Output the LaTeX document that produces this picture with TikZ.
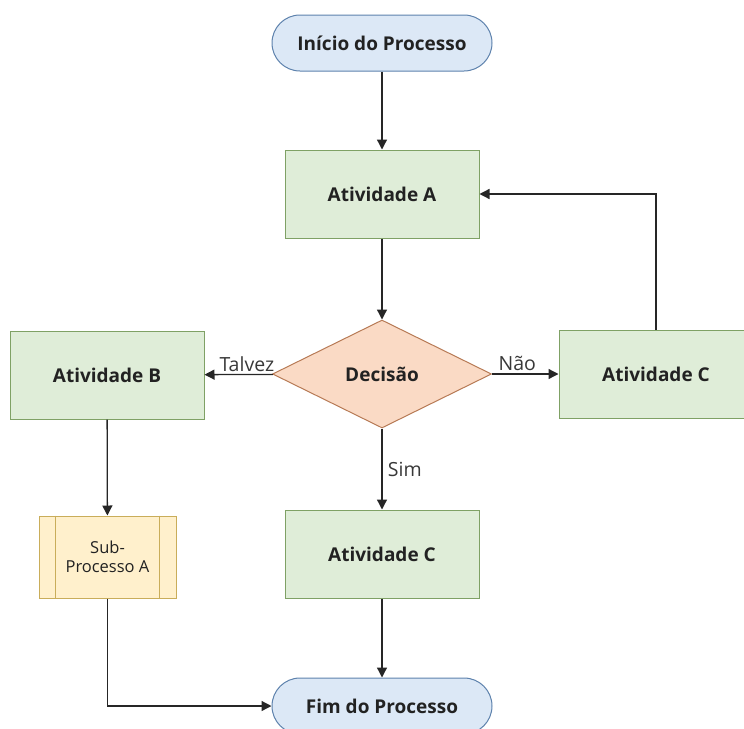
\documentclass[tikz,border=0pt]{standalone}
\usepackage{fontspec}
\setmainfont{Open Sans}
\usetikzlibrary{shapes.geometric,arrows.meta}
\definecolor{gfill}{HTML}{DFEDD8}
\definecolor{gline}{HTML}{7FA165}
\definecolor{bfill}{HTML}{DCE8F6}
\definecolor{bline}{HTML}{5E82AD}
\definecolor{ofill}{HTML}{FADAC5}
\definecolor{oline}{HTML}{B77A55}
\definecolor{yfill}{HTML}{FFF0CC}
\definecolor{yline}{HTML}{C9AD5A}
\definecolor{txt}{HTML}{222222}
\begin{document}
\begin{tikzpicture}[x=1pt,y=-1pt,
  every node/.style={text=txt,font=\fontsize{19}{22}\selectfont\bfseries},
  actbox/.style={draw=gline,fill=gfill,line width=1pt,minimum width=194pt,minimum height=88pt,inner sep=0pt},
  term/.style={draw=bline,fill=bfill,line width=1pt,rounded corners=28pt,minimum width=220pt,minimum height=56pt,inner sep=0pt},
  dec/.style={draw=oline,fill=ofill,line width=1pt,diamond,aspect=2.03,minimum width=219pt,minimum height=108pt,inner sep=0pt},
  subp/.style={draw=yline,fill=yfill,line width=1pt,minimum width=137pt,minimum height=82pt,inner sep=0pt,align=center},
  conn/.style={draw=black!85,line width=1.3pt,-{Triangle[length=10pt,width=10pt]}},
  lab/.style={font=\fontsize{19.5}{22}\selectfont,text=txt!90}]
\useasboundingbox (0,0) rectangle (744,728);
\node[term] (start) at (382,43) {Início do Processo};
\node[actbox] (a) at (382,194) {Atividade A};
\node[dec] (d) at (382,374) {Decisão};
\node[actbox] (b) at (107,375) {Atividade B};
\node[actbox] (cr) at (656,374) {Atividade C};
\node[actbox] (cb) at (382,554) {Atividade C};
\node[subp] (s) at (107.5,557) {\fontsize{16.5}{21}\selectfont\mdseries Sub-\\[-3pt]\fontsize{16.5}{21}\selectfont\mdseries Processo A};
\draw[yline,line width=1pt] ([xshift=17pt]s.north west) -- ([xshift=17pt]s.south west);
\draw[yline,line width=1pt] ([xshift=-17pt]s.north east) -- ([xshift=-17pt]s.south east);
\node[term] (fim) at (382,706) {Fim do Processo};
\draw[conn] (start) -- (a);
\draw[conn] (a) -- (d);
\draw[conn] (d) -- node[lab,above,pos=0.38,yshift=-1pt] {Talvez} (b);
\draw[conn] (d) -- node[lab,above,pos=0.38,yshift=-1pt] {Não} (cr);
\draw[conn] (d) -- node[lab,right,pos=0.5,xshift=2pt] {Sim} (cb);
\draw[conn] (cr.north) |- (a.east);
\draw[conn] (b) -- (s);
\draw[conn] (s.south) |- (fim.west);
\draw[conn] (cb) -- (fim);
\end{tikzpicture}
\end{document}
